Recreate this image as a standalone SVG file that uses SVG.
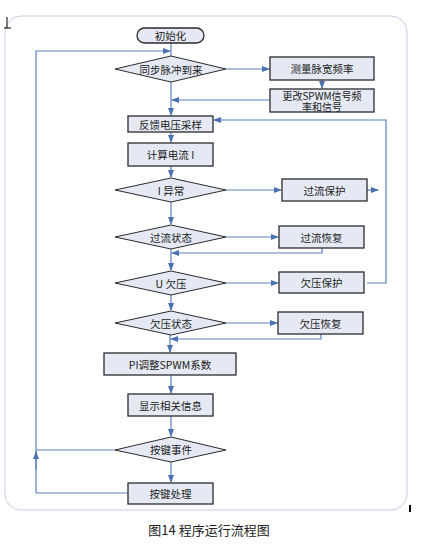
<svg xmlns="http://www.w3.org/2000/svg" width="424" height="546" viewBox="0 0 424 546">
<defs>
<marker id="ah" markerWidth="8" markerHeight="6" refX="7" refY="3" orient="auto" markerUnits="userSpaceOnUse">
<path d="M0,0 L8,3 L0,6 Z" fill="#4a72b0"/>
</marker>
<style>
.box{fill:#e4e9f3;stroke:#2b2b2b;stroke-width:1.3}
.dia{fill:#e4e9f3;stroke:#2b2b2b;stroke-width:1}
.t{font-family:"Noto Sans CJK SC","Liberation Sans",sans-serif;font-size:10.5px;fill:#222;text-anchor:middle;dominant-baseline:central}
.c{fill:none;stroke:#5a80bc;stroke-width:1.2}
</style>
</defs>
<rect width="424" height="546" fill="#fff"/>
<rect x="5" y="16" width="402" height="494" rx="16" fill="none" stroke="#c3d0e2" stroke-width="1"/>
<g stroke="#000" stroke-width="1"><line x1="7" y1="17" x2="7" y2="28"/><line x1="4" y1="28" x2="11" y2="28"/></g>
<rect x="409" y="505" width="2" height="7" fill="#000"/>

<g id="connectors">
<line class="c" x1="171" y1="43" x2="171" y2="56"/>
<polyline class="c" points="36,493 36,51 170,51" marker-end="url(#ah)"/>
<line class="c" x1="226" y1="69" x2="269" y2="69" marker-end="url(#ah)"/>
<line class="c" x1="322" y1="80" x2="322" y2="88" marker-end="url(#ah)"/>
<line class="c" x1="171" y1="82" x2="171" y2="115" marker-end="url(#ah)"/>
<line class="c" x1="270" y1="100" x2="172" y2="100" marker-end="url(#ah)"/>
<polyline class="c" points="367,283 386,283 386,120 214,120" marker-end="url(#ah)"/>
<line class="c" x1="171" y1="132" x2="171" y2="142" marker-end="url(#ah)"/>
<line class="c" x1="171" y1="166" x2="171" y2="177" marker-end="url(#ah)"/>
<line class="c" x1="226" y1="190" x2="281" y2="190" marker-end="url(#ah)"/>
<line class="c" x1="367" y1="190" x2="378" y2="190" marker-end="url(#ah)"/>
<line class="c" x1="171" y1="202" x2="171" y2="224" marker-end="url(#ah)"/>
<line class="c" x1="226" y1="237" x2="278" y2="237" marker-end="url(#ah)"/>
<polyline class="c" points="322,248 322,253 172,253" marker-end="url(#ah)"/>
<line class="c" x1="171" y1="249" x2="171" y2="270" marker-end="url(#ah)"/>
<line class="c" x1="226" y1="283" x2="278" y2="283" marker-end="url(#ah)"/>
<line class="c" x1="171" y1="294" x2="171" y2="310" marker-end="url(#ah)"/>
<line class="c" x1="226" y1="323" x2="277" y2="323" marker-end="url(#ah)"/>
<polyline class="c" points="321,334 321,339 171,339" marker-end="url(#ah)"/>
<line class="c" x1="170" y1="335" x2="170" y2="352" marker-end="url(#ah)"/>
<line class="c" x1="171" y1="375" x2="171" y2="393" marker-end="url(#ah)"/>
<line class="c" x1="171" y1="416" x2="171" y2="436" marker-end="url(#ah)"/>
<line class="c" x1="171" y1="462" x2="171" y2="482" marker-end="url(#ah)"/>
<line class="c" x1="115" y1="450" x2="36" y2="450"/>
<line class="c" x1="36" y1="470" x2="36" y2="452" marker-end="url(#ah)"/>
<line class="c" x1="128" y1="493" x2="36" y2="493"/>
</g>

<g id="init"><rect x="137" y="28" width="67" height="15" rx="7.5" class="box"/><text class="t" x="170.5" y="35.5">初始化</text></g>
<g id="sync"><polygon class="dia" points="115,69 171,56 226,69 171,82"/><text class="t" x="171" y="69">同步脉冲到来</text></g>
<g id="measure"><rect class="box" x="270" y="57" width="104" height="23"/><text class="t" x="322" y="68.5">测量脉宽频率</text></g>
<g id="change"><rect class="box" x="270" y="89" width="104" height="23"/><text class="t" x="322" y="95.5" style="font-size:10px">更改SPWM信号频<tspan x="322" dy="10.5">率和信号</tspan></text></g>
<g id="feedback"><rect class="box" x="128" y="116" width="85" height="16"/><text class="t" x="170.5" y="124">反馈电压采样</text></g>
<g id="calc"><rect class="box" x="128" y="143" width="85" height="23"/><text class="t" x="170.5" y="154.5">计算电流 I</text></g>
<g id="iabn"><polygon class="dia" points="115,190 171,178 226,190 171,202"/><text class="t" x="171" y="190">I 异常</text></g>
<g id="ocp"><rect class="box" x="282" y="179" width="85" height="22"/><text class="t" x="324.5" y="190">过流保护</text></g>
<g id="ocstate"><polygon class="dia" points="115,237 171,225 226,237 171,249"/><text class="t" x="171" y="237">过流状态</text></g>
<g id="ocrec"><rect class="box" x="279" y="226" width="85" height="22"/><text class="t" x="321.5" y="237">过流恢复</text></g>
<g id="uv"><polygon class="dia" points="115,283 171,271 226,283 171,295"/><text class="t" x="171" y="283">U 欠压</text></g>
<g id="uvp"><rect class="box" x="279" y="272" width="85" height="21"/><text class="t" x="321.5" y="282.5">欠压保护</text></g>
<g id="uvstate"><polygon class="dia" points="115,323 171,311 226,323 171,335"/><text class="t" x="171" y="323">欠压状态</text></g>
<g id="uvrec"><rect class="box" x="278" y="312" width="85" height="22"/><text class="t" x="320.5" y="323">欠压恢复</text></g>
<g id="pi"><rect class="box" x="104" y="353" width="132" height="22"/><text class="t" x="170" y="364">PI调整SPWM系数</text></g>
<g id="display"><rect class="box" x="128" y="394" width="85" height="22"/><text class="t" x="170.5" y="405">显示相关信息</text></g>
<g id="key"><polygon class="dia" points="115,450 171,437 226,450 171,462"/><text class="t" x="171" y="449.5">按键事件</text></g>
<g id="keyproc"><rect class="box" x="128" y="483" width="85" height="21"/><text class="t" x="170.5" y="493.5">按键处理</text></g>
<text x="209" y="529" font-family="Noto Sans CJK SC, Liberation Sans, sans-serif" font-size="13" fill="#222" text-anchor="middle" dominant-baseline="central">图14  程序运行流程图</text>
</svg>
